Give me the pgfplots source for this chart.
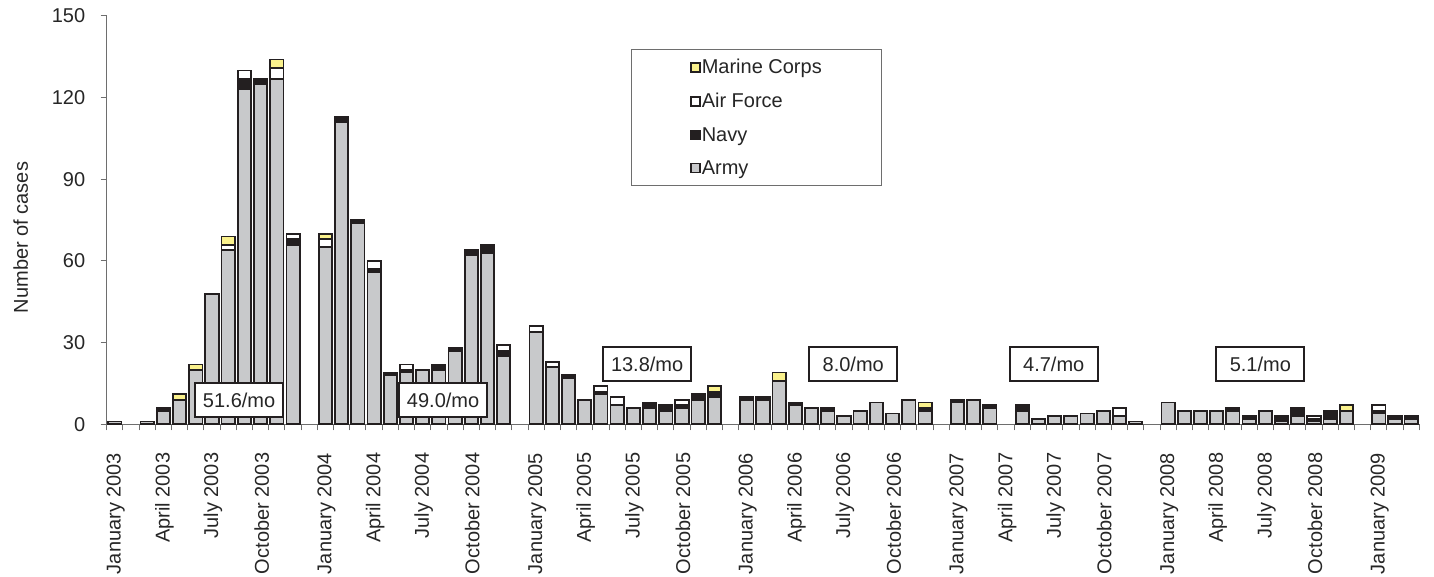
\documentclass[border=0pt]{standalone}
\usepackage{fontspec}
\setmainfont{Liberation Sans}
\usepackage{pgfplots}
\pgfplotsset{compat=1.18}
\usepackage{pgfplotstable}

\definecolor{army}{RGB}{200,201,203}
\definecolor{navy}{RGB}{35,31,32}
\definecolor{marine}{RGB}{250,241,140}
\definecolor{edge}{RGB}{35,31,32}
\definecolor{axisgray}{RGB}{110,110,110}
\newcommand\bigf{\fontsize{20}{24}\selectfont}

% monthly cases by service; slot 13*k+m = month m of 2003+k
\pgfplotstableread{
idx army navy af marine
0 1 0 0 0
2 1 0 0 0
3 5 1 0 0
4 9 0 0 2
5 20 0 0 2
6 48 0 0 0
7 64 0 2 3
8 123 4 3 0
9 125 2 0 0
10 127 0 4 3
11 66 2 2 0
13 65 0 3 2
14 111 2 0 0
15 74 1 0 0
16 56 1 3 0
17 18 1 0 0
18 19 1 2 0
19 20 0 0 0
20 20 2 0 0
21 27 1 0 0
22 62 2 0 0
23 63 3 0 0
24 25 2 2 0
26 34 0 2 0
27 21 0 2 0
28 17 1 0 0
29 9 0 0 0
30 11 1 2 0
31 7 0 3 0
32 6 0 0 0
33 6 2 0 0
34 5 2 0 0
35 6 1 2 0
36 9 2 0 0
37 10 2 0 2
39 9 1 0 0
40 9 1 0 0
41 16 0 0 3
42 7 1 0 0
43 6 0 0 0
44 5 1 0 0
45 3 0 0 0
46 5 0 0 0
47 8 0 0 0
48 4 0 0 0
49 9 0 0 0
50 5 1 0 2
52 8 1 0 0
53 9 0 0 0
54 6 1 0 0
56 5 2 0 0
57 2 0 0 0
58 3 0 0 0
59 3 0 0 0
60 4 0 0 0
61 5 0 0 0
62 3 0 3 0
63 1 0 0 0
65 8 0 0 0
66 5 0 0 0
67 5 0 0 0
68 5 0 0 0
69 5 1 0 0
70 2 1 0 0
71 5 0 0 0
72 1 2 0 0
73 3 3 0 0
74 1 1 1 0
75 2 3 0 0
76 5 0 0 2
78 4 1 2 0
79 2 1 0 0
80 2 1 0 0
}\cases

\pgfplotsset{
  sq/.style={draw=edge, line width=1.8pt,
    legend image code/.code={\draw[##1,/tikz/.cd,line width=1.4pt] (0pt,-4.5pt) rectangle (9pt,4.5pt);}},
}
\tikzset{
  rate/.style={draw=edge, line width=1.8pt, fill=white, text=black!85,
    minimum width=88pt, minimum height=34pt, inner sep=0pt, font=\bigf},
}

\begin{document}
\begin{tikzpicture}
\begin{axis}[
  name=ax, at={(0,0)}, anchor=south west,
  scale only axis, width=1312.6pt, height=408.3pt,
  xmin=-0.5, xmax=80.5, ymin=0, ymax=150,
  ybar stacked, bar width=0.82,
  clip=false,
  axis x line*=bottom, axis y line*=left,
  axis line style={axisgray, line width=1pt, -},
  tick align=outside,
  major tick length=6pt, minor tick length=6pt,
  every tick/.style={axisgray, line width=1pt},
  ytick={0,30,...,150},
  xtick={0,3,6,9,13,16,19,22,26,29,32,35,39,42,45,48,52,55,58,61,65,68,71,74,78},
  xticklabels={January 2003,April 2003,July 2003,October 2003,
    January 2004,April 2004,July 2004,October 2004,
    January 2005,April 2005,July 2005,October 2005,
    January 2006,April 2006,July 2006,October 2006,
    January 2007,April 2007,July 2007,October 2007,
    January 2008,April 2008,July 2008,October 2008,
    January 2009},
  minor xtick={-0.5,0.5,...,80.5},
  major x tick style={draw=none},
  /pgf/number format/assume math mode=true,
  tick label style={font=\bigf, text=black!85},
  xticklabel style={yshift=-19pt, xshift=1pt, rotate=90, anchor=east},
  yticklabel style={xshift=-12pt},
  ylabel={Number of cases},
  every axis y label/.style={at={([xshift=-86pt]rel axis cs:0,0.4575)},
    rotate=90, anchor=center, font=\bigf, text=black!85},
  reverse legend,
  legend cell align=left,
  legend style={at={(0.3994,0.9192)}, anchor=north west,
    draw=axisgray, line width=0.8pt, inner xsep=59pt, inner ysep=9pt,
    row sep=16pt, font=\bigf, text=black!85,
    nodes={inner xsep=1pt, inner ysep=1pt}},
]
\addplot[sq, fill=army] table[x=idx, y=army] {\cases};
\addplot[sq, fill=navy] table[x=idx, y=navy] {\cases};
\addplot[sq, fill=white] table[x=idx, y=af] {\cases};
\addplot[sq, fill=marine] table[x=idx, y=marine] {\cases};
\legend{Army, Navy, Air Force, Marine Corps}

\coordinate (r1) at (axis cs:7.67,8.9);
\coordinate (r2) at (axis cs:20.26,8.9);
\coordinate (r3) at (axis cs:32.85,22.15);
\coordinate (r4) at (axis cs:45.57,22.15);
\coordinate (r5) at (axis cs:57.94,22.15);
\coordinate (r6) at (axis cs:70.69,22.15);
\end{axis}
\node[rate] at (r1) {51.6/mo};
\node[rate] at (r2) {49.0/mo};
\node[rate] at (r3) {13.8/mo};
\node[rate] at (r4) {8.0/mo};
\node[rate] at (r5) {4.7/mo};
\node[rate] at (r6) {5.1/mo};
\pgfresetboundingbox
\path (ax.south west) ++(-106.7pt,-151.7pt) rectangle ++(1434pt,576pt);
\end{tikzpicture}
\end{document}
